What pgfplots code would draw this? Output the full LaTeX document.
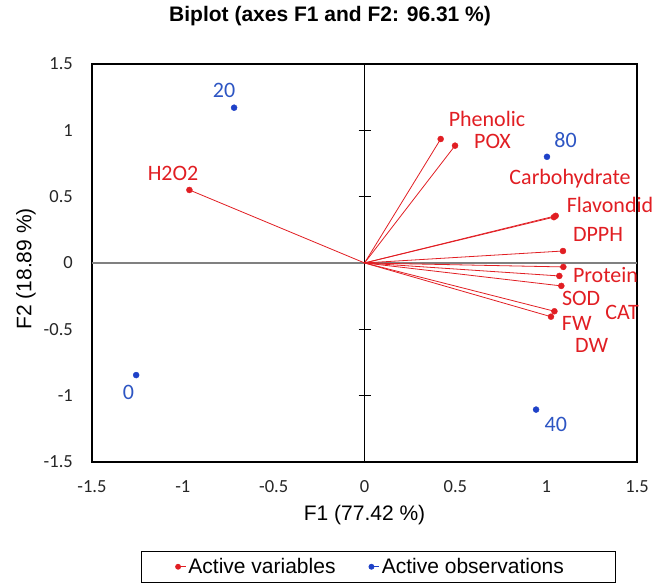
\documentclass[border=0pt]{standalone}
\usepackage{pgfplots}
\pgfplotsset{compat=1.18}
\usepackage{pgfplotstable}
\usepackage{fontspec}
\setmainfont{Liberation Sans}
\newfontfamily\carlito{Carlito}

\definecolor{varred}{RGB}{225,30,35}
\definecolor{obsblue}{RGB}{30,65,200}
\definecolor{obslabel}{RGB}{45,85,195}

% variable loadings (vectors from the origin)
\pgfplotstableread{
x0 y0 x y
0 0 -0.964 0.550
0 0 0.419 0.934
0 0 0.498 0.884
0 0 1.042 0.345
0 0 1.052 0.355
0 0 1.092 0.090
0 0 1.094 -0.030
0 0 1.072 -0.098
0 0 1.083 -0.173
0 0 1.045 -0.364
0 0 1.026 -0.405
}\variables

% observation scores
\pgfplotstableread{
x y
-1.257 -0.845
-0.718 1.170
0.944 -1.105
1.004 0.800
}\observations

\begin{document}
\begin{tikzpicture}
\useasboundingbox (0,0) rectangle (656bp,585bp);
\tikzset{
  varlab/.style={text=varred, font=\carlito\fontsize{22bp}{24bp}\selectfont, inner sep=0pt},
  obslab/.style={text=obslabel, font=\carlito\fontsize{22bp}{24bp}\selectfont, inner sep=0pt},
}
\begin{axis}[
  name=ax, at={(92bp,123bp)}, anchor=south west,
  x=181.7bp, y=132.7bp,
  xmin=-1.5, xmax=1.5, ymin=-1.5, ymax=1.5,
  xtick={-1.5,-1,-0.5,0,0.5,1,1.5},
  ytick={-1.5,-1,-0.5,0,0.5,1,1.5},
  major tick length=0pt,
  axis line style={line width=1.3bp},
  tick label style={font=\carlito\fontsize{18.5bp}{20bp}\selectfont, text=black!85},
  /pgf/number format/assume math mode=true,
  xticklabel style={anchor=center, yshift=-25bp},
  yticklabel style={anchor=east, inner sep=0pt, xshift=-19bp},
  title={Biplot (axes F1 and F2: 96.31 \%)},
  title style={at={(0.4367,1.1055)}, anchor=center, font=\bfseries\fontsize{21bp}{24bp}\selectfont},
  xlabel={F1 (77.42 \%)},
  xlabel style={at={(0.5,-0.1332)}, anchor=center, font=\fontsize{21bp}{24bp}\selectfont},
  ylabel={F2 (18.89 \%)},
  ylabel style={at={(-0.1211,0.4849)}, anchor=center, font=\fontsize{21bp}{24bp}\selectfont},
  clip=false,
  legend columns=2,
  legend style={at={(0.5,-0.2236)}, anchor=north, xshift=13.5bp, draw=black, line width=0.8bp,
    font=\fontsize{21bp}{24bp}\selectfont, inner xsep=34bp, inner ysep=5bp,
    /tikz/every even column/.append style={column sep=31bp}},
  legend image code/.code={\fill[#1] (0bp,0bp) circle (2.5bp);
    \path (-2.5bp,0) -- (8bp,0);},
]
% zero lines
\draw[gray, line width=1.5bp] (axis cs:-1.5,0) -- (axis cs:1.5,0);
\draw[black, line width=1.3bp] (axis cs:0,-1.5) -- (axis cs:0,1.5);
\pgfplotsinvokeforeach{-1.5,-1,-0.5,0.5,1,1.5}{
  \draw[black, line width=1.3bp] ([xshift=-6bp]axis cs:0,#1) -- ([xshift=6bp]axis cs:0,#1);
}

\addplot[varred, line width=0.8bp, forget plot,
  quiver={u=\thisrow{x}, v=\thisrow{y}}] table[x=x0, y=y0] {\variables};
\addplot[only marks, mark=*, mark size=3bp, varred] table[x=x, y=y] {\variables};
\addlegendentry{Active variables}
\addplot[only marks, mark=*, mark size=3bp, obsblue] table[x=x, y=y] {\observations};
\addlegendentry{Active observations\hspace*{15bp}}

% variable labels
\node[varlab] at (axis cs:-1.054,0.678) {H2O2};
\node[varlab] at (axis cs:0.674,1.082) {Phenolic};
\node[varlab] at (axis cs:0.704,0.915) {POX};
\node[varlab] at (axis cs:1.131,0.633) {Carbohydrate};
\node[varlab] at (axis cs:1.351,0.437) {Flavondid};
\node[varlab] at (axis cs:1.285,0.216) {DPPH};
\node[varlab] at (axis cs:1.326,-0.090) {Protein};
\node[varlab] at (axis cs:1.192,-0.271) {SOD};
\node[varlab] at (axis cs:1.417,-0.374) {CAT};
\node[varlab] at (axis cs:1.168,-0.455) {FW};
\node[varlab] at (axis cs:1.250,-0.618) {DW};
% observation labels
\node[obslab] at (axis cs:-1.300,-0.975) {0};
\node[obslab] at (axis cs:-0.773,1.298) {20};
\node[obslab] at (axis cs:1.053,-1.215) {40};
\node[obslab] at (axis cs:1.106,0.927) {80};
\end{axis}
\end{tikzpicture}
\end{document}
